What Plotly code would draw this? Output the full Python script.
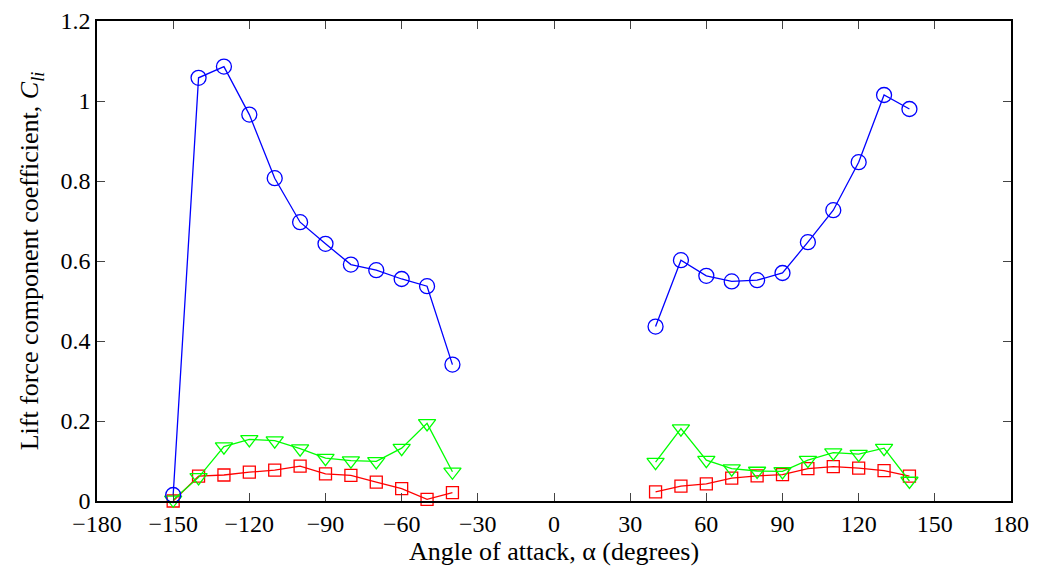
import plotly.graph_objects as go

# Angle of attack (degrees)
alpha_neg = [-150, -140, -130, -120, -110, -100, -90, -80, -70, -60, -50, -40]
alpha_pos = [40, 50, 60, 70, 80, 90, 100, 110, 120, 130, 140]

# Blue circles
blue_neg = [0.015, 1.058, 1.086, 0.966, 0.807, 0.697, 0.643, 0.591, 0.577, 0.555, 0.537, 0.341]
blue_pos = [0.436, 0.602, 0.563, 0.549, 0.552, 0.570, 0.647, 0.727, 0.847, 1.015, 0.980]

# Green triangles
green_neg = [0.003, 0.059, 0.136, 0.154, 0.151, 0.131, 0.107, 0.101, 0.099, 0.132, 0.194, 0.073]
green_pos = [0.097, 0.181, 0.102, 0.081, 0.075, 0.074, 0.102, 0.121, 0.117, 0.132, 0.050]

# Red squares
red_neg = [0.000, 0.062, 0.065, 0.072, 0.077, 0.087, 0.068, 0.064, 0.047, 0.031, 0.004, 0.021]
red_pos = [0.023, 0.037, 0.043, 0.057, 0.063, 0.066, 0.081, 0.086, 0.082, 0.076, 0.062]

x_ticks = [-180, -150, -120, -90, -60, -30, 0, 30, 60, 90, 120, 150, 180]
y_ticks = [0, 0.2, 0.4, 0.6, 0.8, 1.0, 1.2]
y_tick_text = ["0", "0.2", "0.4", "0.6", "0.8", "1", "1.2"]

fig = go.Figure()

series = [
    (red_neg, red_pos, "#ff0000", "square-open", 12),
    (green_neg, green_pos, "#00ff00", "triangle-down-open", 15),
    (blue_neg, blue_pos, "#0000ff", "circle-open", 15),
]
for yn, yp, col, sym, sz in series:
    fig.add_trace(go.Scatter(
        x=alpha_neg + [None] + alpha_pos,
        y=yn + [None] + yp,
        mode="lines+markers",
        line=dict(color=col, width=1.3),
        marker=dict(symbol=sym, size=sz, color=col, line=dict(color=col, width=1.3)),
        connectgaps=False,
        showlegend=False,
        cliponaxis=False,
    ))

FF = "Liberation Serif"
tick_fnt = dict(family=FF, size=24, color="black")
title_fnt = dict(family=FF, size=26, color="black")
# page body has an 8px margin, so the figure is shrunk by 8px and margins shifted
fig.update_layout(
    width=1029, height=562,
    margin=dict(l=89, r=26, t=13, b=69, autoexpand=False),
    plot_bgcolor="white", paper_bgcolor="white",
    font=tick_fnt,
    xaxis=dict(
        range=[-180, 180], tickmode="array", tickvals=x_ticks,
        ticks="inside", ticklen=8, tickcolor="#444", tickwidth=1.3,
        showline=True, linecolor="black", linewidth=1.5, mirror="allticks",
        showgrid=False, zeroline=False, automargin=False,
        tickfont=tick_fnt,
        title=dict(text="Angle of attack, α (degrees)", font=title_fnt, standoff=0),
    ),
    yaxis=dict(
        range=[0, 1.2], tickmode="array", tickvals=y_ticks, ticktext=y_tick_text,
        ticks="inside", ticklen=8, tickcolor="#444", tickwidth=1.3,
        showline=True, linecolor="black", linewidth=1.5, mirror="allticks",
        showgrid=False, zeroline=False, automargin=False,
        tickfont=tick_fnt,
        title=dict(text="Lift force component coefficient, <i>C</i><sub><i>li</i></sub>",
                   font=title_fnt, standoff=14),
    ),
)

fig.write_html("out.html")
